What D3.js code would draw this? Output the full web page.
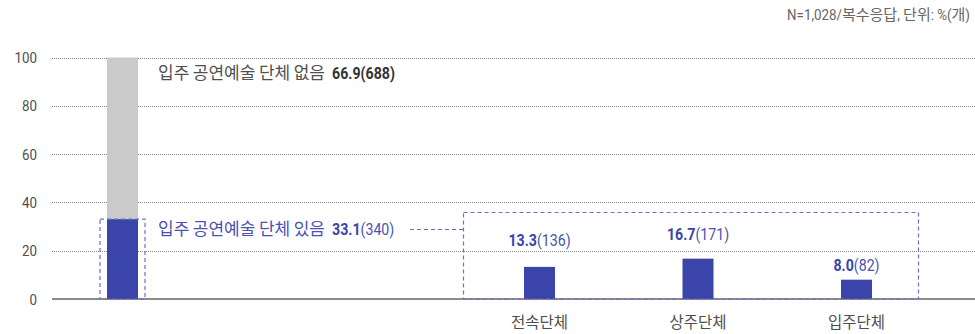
<!DOCTYPE html>
<html>
<head>
<meta charset="utf-8">
<script src="https://cdn.jsdelivr.net/npm/d3@7"></script>
<style>
  html, body { margin: 0; padding: 0; background: #fff; }
  svg text { font-family: Roboto, "Noto Sans CJK KR", sans-serif; white-space: pre; }
</style>
</head>
<body>
<svg id="chart" width="975" height="334"></svg>
<script>
// Share of groups with / without a resident performing-arts company
const stackKeys = ["있음", "없음"];
const stackLabels = ["입주 공연예술 단체 있음", "입주 공연예술 단체 없음"];
const stackValues = [33.1, 66.9];
const stackCounts = [340, 688];

// Breakdown of the resident types (multiple response)
const categories = ["전속단체", "상주단체", "입주단체"];
const values = [13.3, 16.7, 8.0];
const counts = [136, 171, 82];
const labelGaps = [21, 19, 9];

const yTicks = [0, 20, 40, 60, 80, 100];
const noteParts = ["N=1,028/", "복수응답", ", ", "단위", ": %(", "개", ")"];

const BLUE = "#3b44a9";
const BLUE_TEXT = "#4a52b0";
const BLUE_DASH = "#6a71c6";
const GREY_BAR = "#c9cac9";
const TEXT = "#4f4f4f";
const SQUEEZE = 0.86;

const svg = d3.select("#chart");
const y = d3.scaleLinear().domain([0, 100]).range([299, 57.5]);
const xRight = d3.scalePoint().domain(categories).range([539.5, 856.5]);
const stackX = 122.5;
const barW = 31;

const isHangul = s => /[\uac00-\ud7a3]/.test(s);

// Run of text pieces; Latin digits are condensed, Hangul is kept at natural width.
// parts: [{t, w, c}], sizes: {num, ko}
function label(g, x, yy, anchor, sizes, parts) {
  const grp = g.append("g");
  let cx = 0;
  parts.forEach(p => {
    const ko = isHangul(p.t);
    const sq = ko ? 1 : SQUEEZE;
    const t = grp.append("text")
      .attr("transform", `translate(${cx},0) scale(${sq},1)`)
      .attr("font-size", ko ? sizes.ko : sizes.num)
      .attr("font-weight", p.w || 400)
      .attr("fill", p.c)
      .text(p.t);
    cx += t.node().getComputedTextLength() * sq;
  });
  const shift = anchor === "end" ? -cx : anchor === "middle" ? -cx / 2 : 0;
  grp.attr("transform", `translate(${x + shift},${yy})`);
  return grp;
}

// grid
const grid = svg.append("g");
grid.selectAll("line").data(yTicks.filter(d => d > 0)).join("line")
  .attr("x1", 52).attr("x2", 975)
  .attr("y1", d => Math.round(y(d)) + 0.5).attr("y2", d => Math.round(y(d)) + 0.5)
  .attr("stroke", "#8a8a8a").attr("stroke-width", 1)
  .attr("stroke-dasharray", "1,1");
grid.append("line")
  .attr("x1", 52).attr("x2", 975)
  .attr("y1", y(0)).attr("y2", y(0))
  .attr("stroke", "#666").attr("stroke-width", 1.5);

// y tick labels
const ticks = svg.append("g");
yTicks.forEach(d => {
  label(ticks, 37, y(d) + 5.5, "end", { num: 15.5, ko: 15 }, [{ t: String(d), c: TEXT }]);
});

// stacked bar
const stack = d3.stack().keys(stackKeys)([Object.fromEntries(stackKeys.map((k, i) => [k, stackValues[i]]))]);
svg.append("g").selectAll("rect").data(stack).join("rect")
  .attr("x", stackX - barW / 2).attr("width", barW)
  .attr("y", d => y(d[0][1])).attr("height", d => y(d[0][0]) - y(d[0][1]))
  .attr("fill", (d, i) => i === 0 ? BLUE : GREY_BAR);

// right bars
svg.append("g").selectAll("rect").data(values).join("rect")
  .attr("x", (d, i) => xRight(categories[i]) - barW / 2).attr("width", barW)
  .attr("y", d => y(d)).attr("height", d => y(0) - y(d))
  .attr("fill", BLUE);

// dashed callouts
const dash = svg.append("g").attr("fill", "none").attr("stroke", BLUE_DASH)
  .attr("stroke-width", 1.2).attr("stroke-dasharray", "4,3");
dash.append("rect")
  .attr("x", stackX - barW / 2 - 7).attr("width", barW + 14)
  .attr("y", y(stackValues[0])).attr("height", y(0) - y(stackValues[0]));
dash.append("rect")
  .attr("x", 463.5).attr("width", 455)
  .attr("y", 212.5).attr("height", y(0) - 212.5);
dash.append("line")
  .attr("x1", 410).attr("x2", 463.5)
  .attr("y1", 229.5).attr("y2", 229.5);

// stacked bar labels: Hangul phrase + gap + value
const ann = svg.append("g");
const annSizes = { num: 16.5, ko: 17 };
function phrase(text, color) {
  const out = [];
  text.split(" ").forEach((w, i, arr) => {
    out.push({ t: w, c: color });
    out.push({ t: i < arr.length - 1 ? " " : "  ", c: color });
  });
  return out;
}
label(ann, 158, 79, "start", annSizes, [
  ...phrase(stackLabels[1], TEXT),
  { t: stackValues[1].toFixed(1), w: 700, c: "#333" },
  { t: `(${stackCounts[1]})`, w: 700, c: "#333" }
]);
label(ann, 158, 235, "start", annSizes, [
  ...phrase(stackLabels[0], BLUE_TEXT),
  { t: stackValues[0].toFixed(1), w: 700, c: BLUE },
  { t: `(${stackCounts[0]})`, c: BLUE_TEXT }
]);

// value labels
values.forEach((v, i) => {
  label(ann, xRight(categories[i]), y(v) - labelGaps[i], "middle", annSizes, [
    { t: v.toFixed(1), w: 700, c: BLUE },
    { t: `(${counts[i]})`, c: BLUE_TEXT }
  ]);
});

// category labels
categories.forEach(c => {
  label(ann, xRight(c), 328, "middle", { num: 16, ko: 15.5 }, [{ t: c, c: TEXT }]);
});

// note
label(svg, 970, 20, "end", { num: 15.5, ko: 15 }, noteParts.map(t => ({ t, c: "#666" })));
</script>
</body>
</html>
